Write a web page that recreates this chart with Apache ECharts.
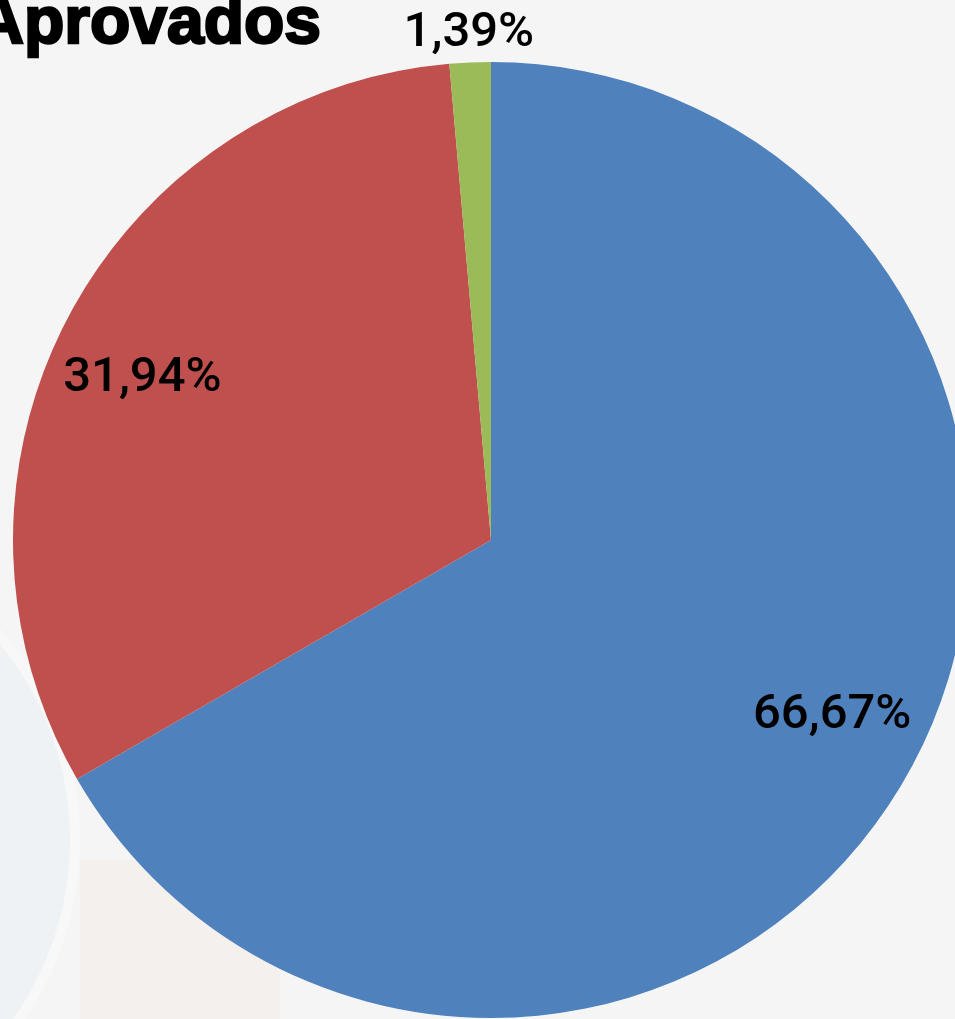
<!DOCTYPE html>
<html>
<head>
<meta charset="utf-8">
<script src="https://cdn.jsdelivr.net/npm/echarts@6/dist/echarts.min.js"></script>
<style>
html,body{margin:0;padding:0;background:#f5f5f5;}
#chart{width:955px;height:1019px;}
</style>
</head>
<body>
<div id="chart"></div>
<script>
const titleText = 'Aprovados';
const categories = ['Aprovados', 'Reprovados', 'Outros'];
const values = [66.67, 31.94, 1.39];
const colors = ['#4F81BD', '#C0504D', '#9BBB59'];
const outsideLabelIdx = [2];

const C = [491, 540];
const R = 478;
const fmt = v => v.toFixed(2).replace('.', ',') + '%';
const labelFont = { fontFamily: 'Roboto', fontWeight: 500, fontSize: 49, color: '#000' };

const baseData = categories.map((n, i) => ({ name: n, value: values[i], itemStyle: { color: colors[i] } }));
const ringData = (showFn) => categories.map((n, i) => ({
  name: n, value: values[i],
  label: Object.assign({ show: showFn(i), position: 'inside', formatter: p => fmt(p.value) }, labelFont)
}));

const chart = echarts.init(document.getElementById('chart'));
chart.setOption({
  backgroundColor: '#f5f5f5',
  animation: false,
  graphic: [
    { type: 'circle', z: -10, shape: { cx: -240, cy: 840, r: 315 }, style: { fill: '#eef2f4', stroke: '#f8f8f8', lineWidth: 10 } },
    { type: 'rect', z: -11, shape: { x: 80, y: 860, width: 200, height: 170 }, style: { fill: '#f3f0ee' } },
    { type: 'text', z: 10, style: { text: titleText, x: 321, y: 58, align: 'right', verticalAlign: 'bottom',
        fontFamily: 'Liberation Sans', fontWeight: 'bold', fontSize: 66, fill: '#000',
        stroke: '#000', lineWidth: 2.5 } }
  ],
  series: [
    {
      type: 'pie', center: C, radius: [0, R], startAngle: 90, clockwise: true,
      label: { show: false }, labelLine: { show: false }, silent: true,
      itemStyle: { borderWidth: 0 },
      data: baseData
    },
    {
      type: 'pie', center: C, radius: [287, 475], startAngle: 92.7, clockwise: true,
      itemStyle: { color: 'rgba(0,0,0,0)' }, silent: true, labelLine: { show: false },
      data: ringData(i => outsideLabelIdx.indexOf(i) < 0)
    },
    {
      type: 'pie', center: C, radius: [R + 12, R + 40], startAngle: 90, clockwise: true,
      itemStyle: { color: 'rgba(0,0,0,0)' }, silent: true, labelLine: { show: false },
      data: ringData(i => outsideLabelIdx.indexOf(i) >= 0)
    }
  ]
});
</script>
</body>
</html>
